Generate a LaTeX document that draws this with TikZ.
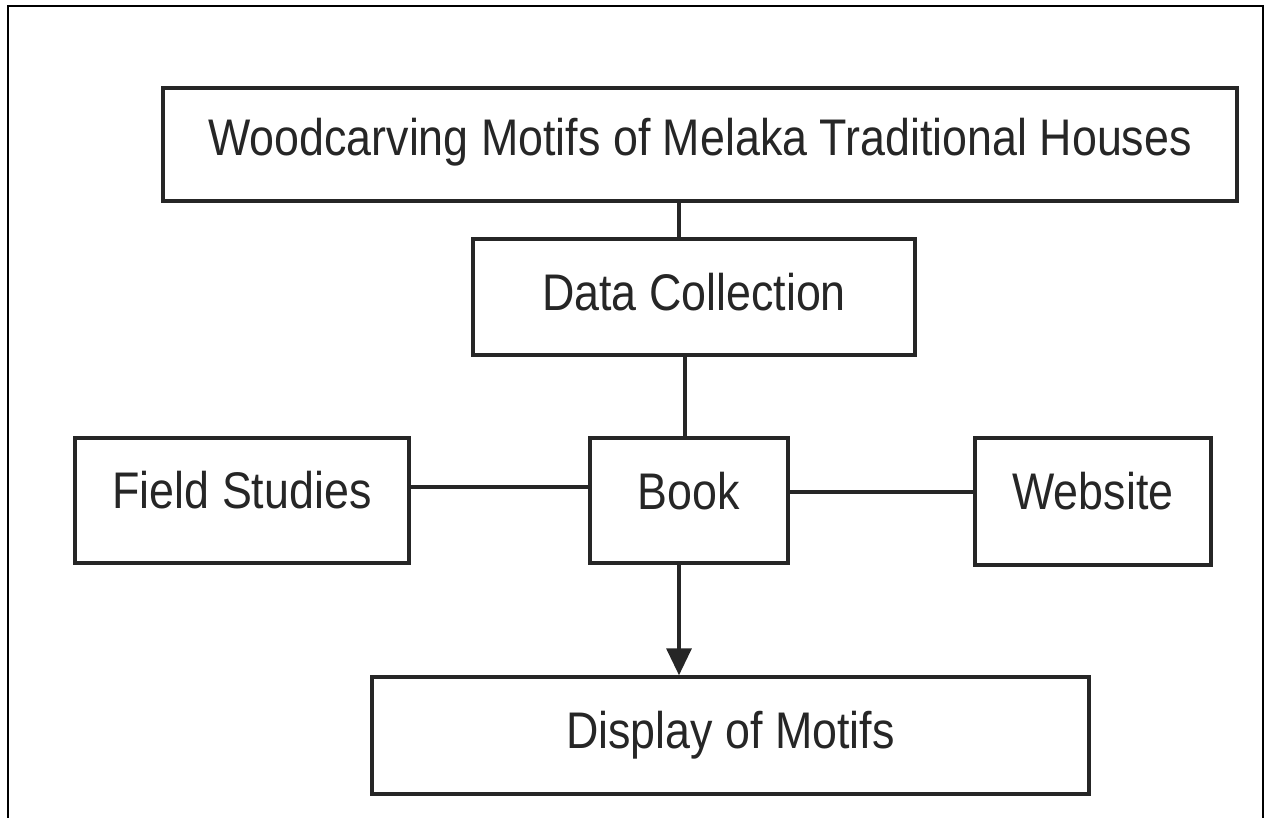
\documentclass[tikz,border=0pt]{standalone}
\usepackage{fontspec}
\setmainfont{Liberation Sans}
\usetikzlibrary{arrows.meta}
\newcommand\sqz[1]{\scalebox{0.87}[1]{#1}}
\definecolor{ink}{HTML}{262626}
\tikzset{
  boxnode/.style={draw=ink, line width=3.5pt, rectangle, inner sep=0pt,
    font=\fontsize{51.5}{55}\selectfont, text=ink, text height=37pt},
  link/.style={draw=ink, line width=3.5pt},
  frameline/.style={draw=black, line width=2pt}
}
\begin{document}
\begin{tikzpicture}[x=1pt,y=-1pt]
\useasboundingbox (0,0) rectangle (1266,818);
% outer frame (open at the bottom)
\coordinate (fbl) at (8,830);
\coordinate (ftl) at (8,6);
\coordinate (ftr) at (1263,6);
\coordinate (fbr) at (1263,830);
\draw[frameline] (fbl) -- (ftl) -- (ftr) -- (fbr);

\node[boxnode, minimum width=1074pt, minimum height=113pt, text depth=14pt] (top) at (700,144.5)
  {\sqz{Woodcarving Motifs of Melaka Traditional Houses}};
\node[boxnode, minimum width=442pt, minimum height=116pt, text depth=9pt] (dc) at (694,297)
  {\sqz{Data Collection}};
\node[boxnode, minimum width=198pt, minimum height=125pt, text depth=20pt] (book) at (689,500.5)
  {\sqz{Book}};
\node[boxnode, minimum width=334pt, minimum height=125pt, text depth=22pt] (fs) at (242,500.5)
  {\sqz{Field Studies}};
\node[boxnode, minimum width=236pt, minimum height=127pt, text depth=22pt] (web) at (1093,501.5)
  {\sqz{Website}};
\node[boxnode, minimum width=717pt, minimum height=117pt, text depth=12pt] (disp) at (730.5,735.5)
  {\sqz{Display of Motifs}};

\coordinate (xa) at (679,0);
\coordinate (xb) at (685,0);
\coordinate (ya) at (0,487);
\coordinate (yb) at (0,492);

\draw[link] (top.south -| xa) -- (dc.north -| xa);
\draw[link] (dc.south -| xb) -- (book.north -| xb);
\draw[link] (fs.east |- ya) -- (book.west |- ya);
\draw[link] (book.east |- yb) -- (web.west |- yb);
\draw[link, -{Triangle[length=27pt,width=25pt]}] (book.south -| xa) -- (disp.north -| xa);
\end{tikzpicture}
\end{document}
